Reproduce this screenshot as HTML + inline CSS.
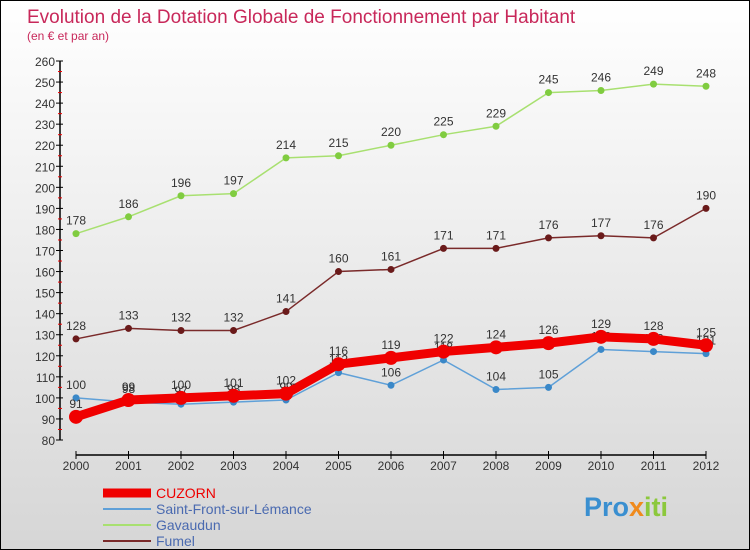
<!DOCTYPE html>
<html><head><meta charset="utf-8"><style>
html,body{margin:0;padding:0}
body{width:750px;height:550px;overflow:hidden;font-family:"Liberation Sans",sans-serif}
#wrap{position:relative;width:748px;height:548px;border:1px solid #000;background:linear-gradient(#ffffff,#d6d6d6)}
</style></head><body>
<div id="wrap">
<svg id="chart" width="748" height="548" style="position:absolute;left:0;top:0">
<text x="26" y="22" font-size="19" fill="#c8285a">Evolution de la Dotation Globale de Fonctionnement par Habitant</text>
<text x="26" y="39" font-size="12" fill="#c8285a">(en € et par an)</text>
<g id="axes"></g><g id="series"></g><g id="legend"></g>
<text x="583" y="515" font-size="27" font-weight="bold" fill="#3a8fd0">Pro<tspan fill="#f08a1c">x</tspan><tspan fill="#8cc83c">iti</tspan></text>
</svg>
</div>
<script>
const years=[2000,2001,2002,2003,2004,2005,2006,2007,2008,2009,2010,2011,2012];
const yTicks=[80,90,100,110,120,130,140,150,160,170,180,190,200,210,220,230,240,250,260];
const seriesNames=["CUZORN","Saint-Front-sur-Lémance","Gavaudun","Fumel"];
const cuzorn=[91,99,100,101,102,116,119,122,124,126,129,128,125];
const saintFront=[100,98,97,98,99,112,106,118,104,105,123,122,121];
const gavaudun=[178,186,196,197,214,215,220,225,229,245,246,249,248];
const fumel=[128,133,132,132,141,160,161,171,171,176,177,176,190];
const NS="http://www.w3.org/2000/svg";
function xS(i){return 75+i*52.5;}
function yS(v){return 439-(v-80)*(379/180);}
function mk(t,a,p){const e=document.createElementNS(NS,t);for(const k in a)e.setAttribute(k,a[k]);p.appendChild(e);return e;}
const ax=document.getElementById('axes');
let l=mk('line',{x1:59,y1:yS(260),x2:59,y2:yS(80),stroke:'#000','stroke-width':1.5},ax);


yTicks.forEach(v=>{
 mk('line',{x1:55,y1:yS(v),x2:62,y2:yS(v),stroke:'#000'},ax);
 if(v<260) mk('line',{x1:57,y1:yS(v+5),x2:61,y2:yS(v+5),stroke:'#e00'},ax);
 const t=mk('text',{x:54,y:yS(v)+5,'font-size':12,fill:'#333','text-anchor':'end'},ax);t.textContent=v;
 
 
});
l=mk('line',{x1:xS(0),y1:454,x2:xS(12),y2:454,stroke:'#000','stroke-width':1.5},ax);


years.forEach((y,i)=>{
 mk('line',{x1:xS(i),y1:450,x2:xS(i),y2:458,stroke:'#000'},ax);
 const t=mk('text',{x:xS(i),y:469,'font-size':12,fill:'#333','text-anchor':'middle'},ax);t.textContent=y;
 
 
});
const sg=document.getElementById('series');
const defs=[
 {d:gavaudun,c:'#a8e070',dot:'#80cc40',w:1.5,r:3.5,n:'gavaudun'},
 {d:fumel,c:'#7a2a2a',dot:'#6a1a1a',w:1.5,r:3.5,n:'fumel'},
 {d:saintFront,c:'#5fa0d8',dot:'#3a88c8',w:1.5,r:3.5,n:'saint-front'},
 {d:cuzorn,c:'#f00000',dot:'#f00000',w:9,r:7,n:'cuzorn'}];
defs.forEach(s=>{
 const g=mk('g',{},sg);
 
 
 const p=mk('polyline',{points:s.d.map((v,i)=>xS(i)+','+yS(v)).join(' '),fill:'none',stroke:s.c,'stroke-width':s.w,'stroke-linejoin':'round'},g);
 
 
 s.d.forEach((v,i)=>{
  const c=mk('circle',{cx:xS(i),cy:yS(v),r:s.r,fill:s.dot},g);
  
  
  const t=mk('text',{x:xS(i),y:yS(v)-9,'font-size':12,fill:'#333','text-anchor':'middle'},g);t.textContent=v;
  
  
 });
});
const lg=document.getElementById('legend');
const lc=[['#f00000',9],['#5fa0d8',2],['#a8e070',2],['#7a2a2a',2]];
seriesNames.forEach((n,i)=>{
 const y=492+i*16;
 const g=mk('g',{},lg);
 
 
 mk('line',{x1:102,y1:y,x2:150,y2:y,stroke:lc[i][0],'stroke-width':lc[i][1]},g);
 const t=mk('text',{x:155,y:y+5,'font-size':14,fill:i==0?'#e00':'#4a6ab0'},g);t.textContent=n;
});
</script>
</body></html>
